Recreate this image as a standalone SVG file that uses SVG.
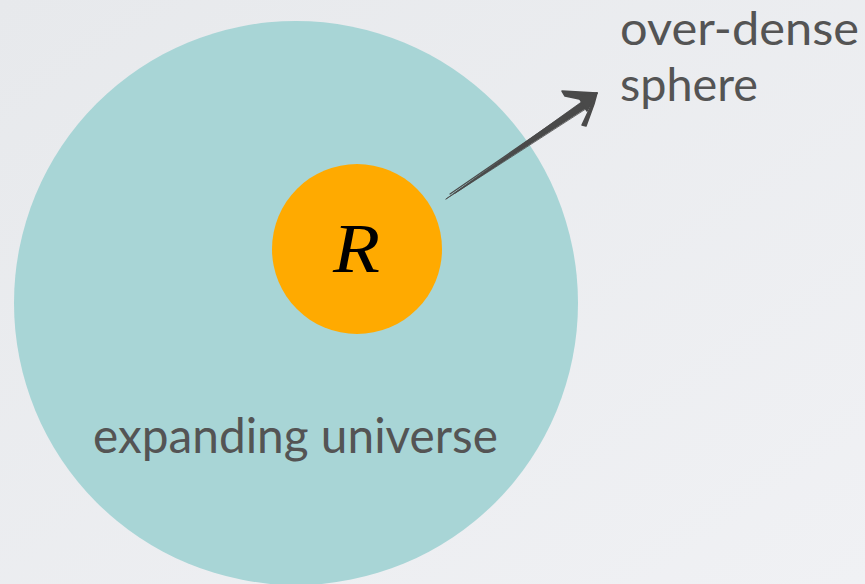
<svg xmlns="http://www.w3.org/2000/svg" width="865" height="584" viewBox="0 0 865 584">
  <defs>
    <linearGradient id="bg" x1="0" y1="0" x2="1" y2="1">
      <stop offset="0" stop-color="#e7e9ec"/>
      <stop offset="1" stop-color="#f0f1f4"/>
    </linearGradient>
  </defs>
  <style>
    .label { font-family: "Gill Sans", "Lato", "Open Sans", sans-serif; font-size: 48px; fill: #545454; }
    .top { font-size: 46px; }
    .math { font-family: "Liberation Serif", "DejaVu Serif", serif; font-style: italic; font-size: 70px; fill: #000000; }
    .ink { fill: #4a4a4a; stroke: #4a4a4a; stroke-linejoin: round; stroke-linecap: round; }
  </style>
  <rect x="0" y="0" width="865" height="584" fill="url(#bg)"/>

  <g id="universe">
    <circle cx="296" cy="303" r="282" fill="#a8d5d6"/>
    <text class="label" x="93" y="453" textLength="405" lengthAdjust="spacingAndGlyphs">expanding universe</text>
  </g>

  <g id="sphere">
    <circle cx="357" cy="249" r="85" fill="#ffaa00"/>
    <text class="math" x="333" y="272" textLength="47" lengthAdjust="spacingAndGlyphs">R</text>
  </g>

  <g id="sphere-label">
    <text class="label top" x="620" y="45" textLength="239" lengthAdjust="spacingAndGlyphs">over-dense</text>
    <text class="label top" x="620" y="101" textLength="138" lengthAdjust="spacingAndGlyphs">sphere</text>
  </g>

  <g id="connectors">
    <path class="ink" stroke-width="0.8" d="M446,199 L587,98 L592,104.5 Z"/>
    <path fill="none" stroke="#4a4a4a" stroke-width="1.2" stroke-linecap="round" d="M450,194 L585,101 M455,193 L590,102"/>
    <path class="ink" stroke-width="1.5" d="M597,93 L562,91 L565,96 L584,100 Z"/>
    <path class="ink" stroke-width="1.5" d="M597,93 L582,125 L586,126 L594,104 Z"/>
    <path class="ink" stroke-width="1.5" d="M597,93 L578,96 L587,111 Z"/>
  </g>
</svg>
